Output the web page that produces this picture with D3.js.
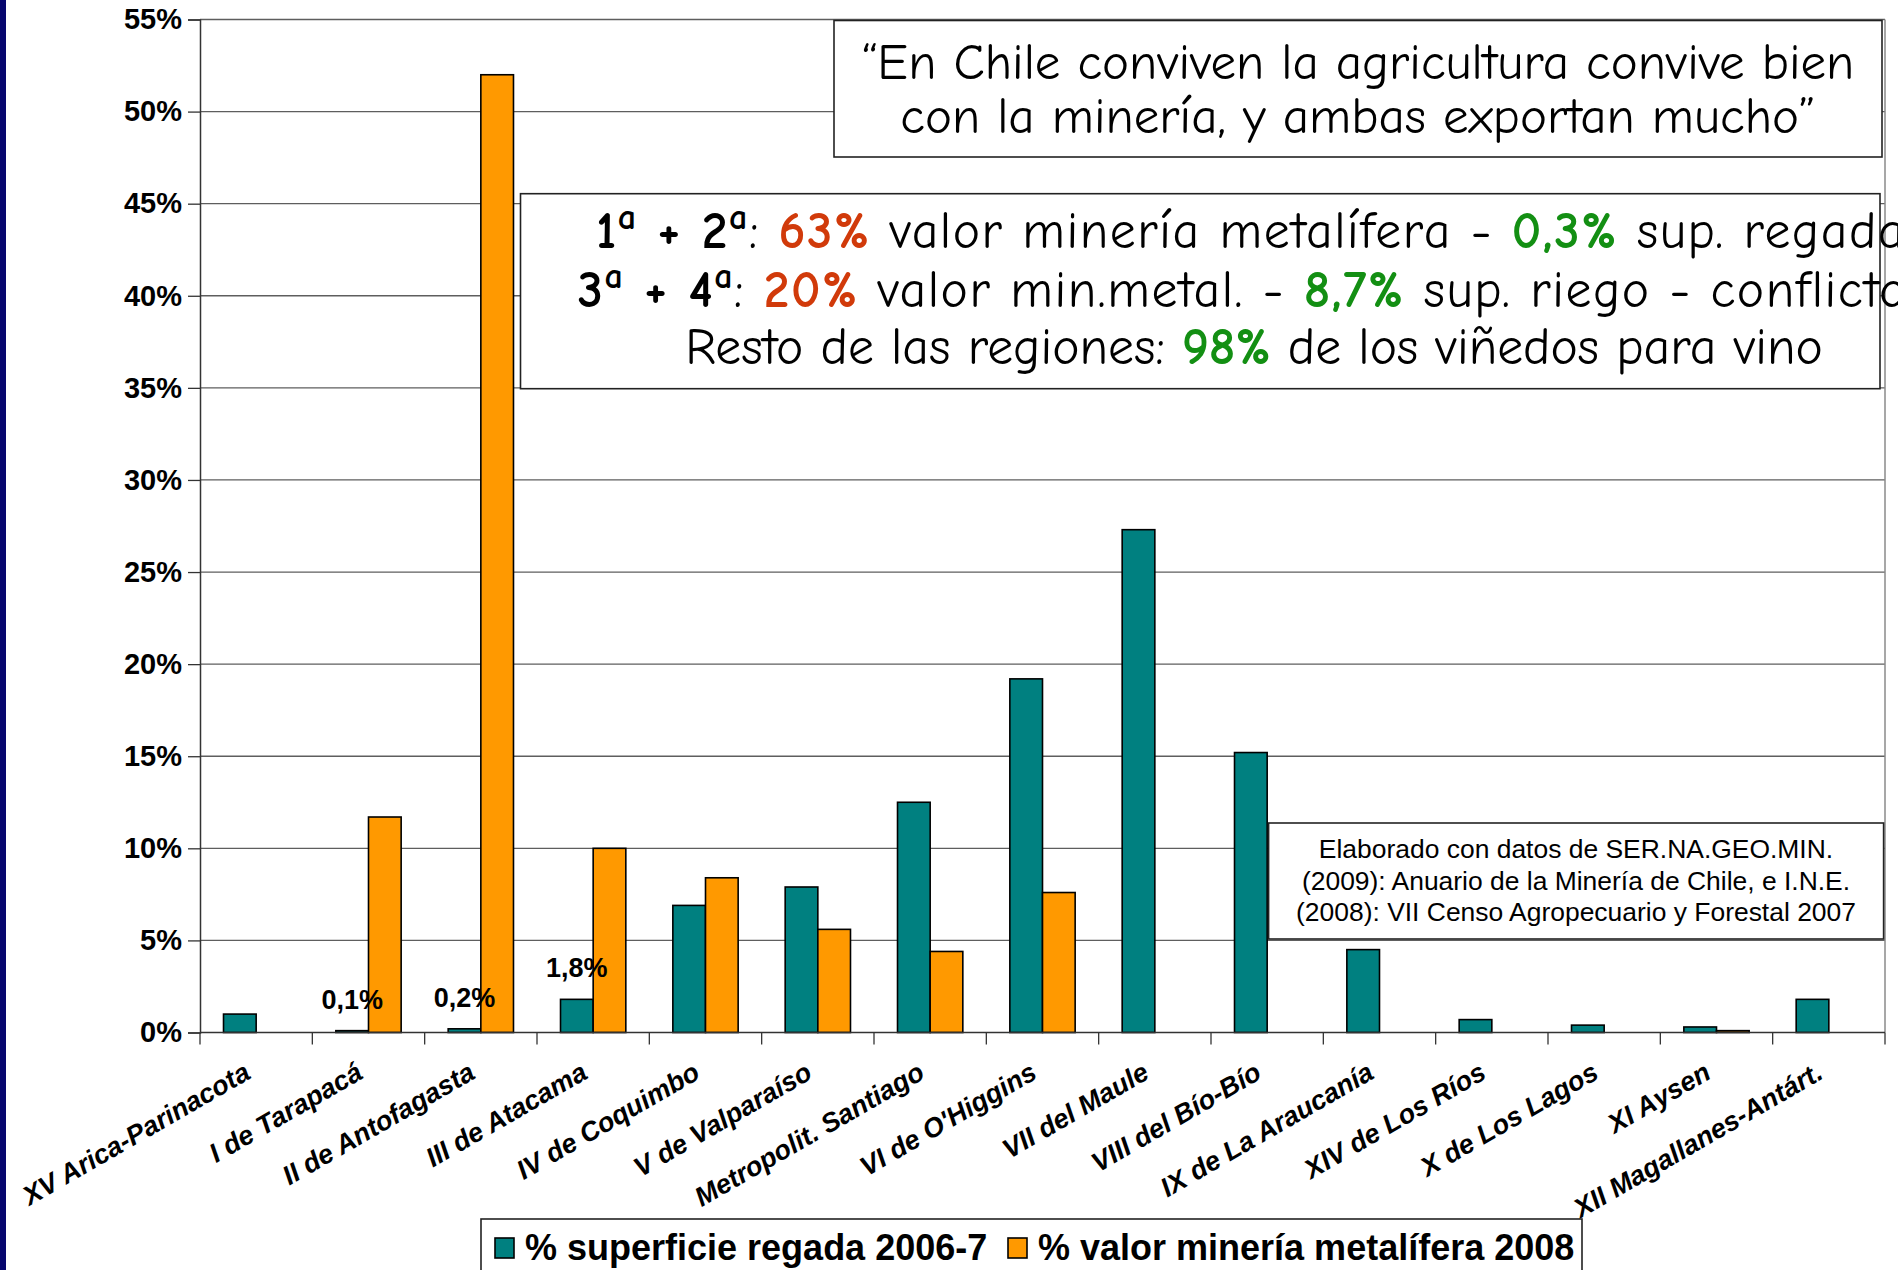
<!DOCTYPE html>
<html><head><meta charset="utf-8">
<script src="https://cdn.jsdelivr.net/npm/d3@7"></script>
<style>body{margin:0;background:#fff;overflow:hidden} svg{display:block}</style>
</head><body>
<svg id="c" width="1898" height="1270"></svg>
<script>
// ---------- data ----------
const categories = ["XV Arica-Parinacota","I de Tarapacá","II de Antofagasta","III de Atacama","IV de Coquimbo","V de Valparaíso","Metropolit. Santiago","VI de O'Higgins","VII del Maule","VIII del Bío-Bío","IX de La Araucanía","XIV de Los Ríos","X de Los Lagos","XI Aysen","XII Magallanes-Antárt."];
const regada  = [1.0, 0.1, 0.2, 1.8, 6.9, 7.9, 12.5, 19.2, 27.3, 15.2, 4.5, 0.7, 0.4, 0.3, 1.8];
const mineria = [0, 11.7, 52.0, 10.0, 8.4, 5.6, 4.4, 7.6, 0, 0, 0, 0, 0, 0.1, 0];
const seriesNames = ["% superficie regada 2006-7", "% valor minería metalífera 2008"];
const seriesColors = ["#008080", "#FF9900"];
const yTicks = [0, 5, 10, 15, 20, 25, 30, 35, 40, 45, 50, 55];
const labeledCategories = ["I de Tarapacá", "II de Antofagasta", "III de Atacama"];
const quoteLines = ["\u201cEn Chile conviven la agricultura convive bien", "con la minería, y ambas exportan mucho\u201d"];
const RED = "#D13A0A", GREEN = "#138F13";
const statLines = [
  [{t:"1",b:1},{t:"a",b:1,sup:1},{t:" + ",b:1},{t:"2",b:1},{t:"a",b:1,sup:1},{t:": "},{t:"63%",b:1,c:RED},{t:" valor minería metalífera - "},{t:"0,3%",b:1,c:GREEN},{t:" sup. regada"}],
  [{t:"3",b:1},{t:"a",b:1,sup:1},{t:" + ",b:1},{t:"4",b:1},{t:"a",b:1,sup:1},{t:": "},{t:"20%",b:1,c:RED},{t:" valor min.metal. - "},{t:"8,7%",b:1,c:GREEN},{t:" sup. riego - conflictos"}],
  [{t:"Resto de las regiones: "},{t:"98%",b:1,c:GREEN},{t:" de los viñedos para vino"}]
];
const sourceLines = ["Elaborado con datos de SER.NA.GEO.MIN.", "(2009): Anuario de la Minería de Chile, e I.N.E.", "(2008): VII Censo Agropecuario y Forestal 2007"];

// ---------- setup ----------
const W = 1898, H = 1270;
const svg = d3.select("#c");
svg.append("rect").attr("width", W).attr("height", H).attr("fill", "#fff");
svg.append("rect").attr("x", 0).attr("y", 0).attr("width", 6).attr("height", H).attr("fill", "#06066e");

const m = {left: 200, right: 1885, top: 19.5, bottom: 1032.5};
const x0 = d3.scaleBand().domain(categories).range([m.left, m.right]).padding(0);
const x1 = d3.scaleBand().domain([0, 1]).range([0, x0.bandwidth()]).paddingInner(0).paddingOuter(0.72);
const y = d3.scaleLinear().domain([0, 55]).range([m.bottom, m.top]);
const ARIAL = "'Liberation Sans', Arial, sans-serif";
const COMIC = "'Comic Sans MS', 'Comic Neue', 'Open Sans', sans-serif";

// gridlines
svg.append("g").selectAll("line").data(yTicks.filter(d => d > 0)).join("line")
  .attr("x1", m.left).attr("x2", m.right)
  .attr("y1", d => y(d)).attr("y2", d => y(d))
  .attr("stroke", "#5e5e5e").attr("stroke-width", 1.3);
// right border
svg.append("line").attr("x1", m.right).attr("x2", m.right).attr("y1", m.top).attr("y2", m.bottom)
  .attr("stroke", "#8a8a8a").attr("stroke-width", 1.5);

// y axis
const yAxis = svg.append("g").attr("transform", `translate(${m.left},0)`)
  .call(d3.axisLeft(y).tickValues(yTicks).tickFormat(d => d + "%").tickSize(12).tickPadding(6));
yAxis.select(".domain").attr("stroke", "#333").attr("stroke-width", 1.5);
yAxis.selectAll(".tick line").attr("stroke", "#333").attr("stroke-width", 1.3);
yAxis.selectAll("text").attr("font-family", ARIAL).attr("font-weight", "bold").attr("font-size", 29).attr("fill", "#000");

// bars
const series = [regada, mineria];
const barData = [];
categories.forEach((c, i) => series.forEach((s, j) => { if (s[i] > 0) barData.push({c, j, v: s[i]}); }));
svg.append("g").selectAll("rect").data(barData).join("rect")
  .attr("x", d => x0(d.c) + x1(d.j))
  .attr("width", x1.bandwidth())
  .attr("y", d => y(d.v))
  .attr("height", d => y(0) - y(d.v))
  .attr("fill", d => seriesColors[d.j])
  .attr("stroke", "#000").attr("stroke-width", 1.6);

// x axis
svg.append("line").attr("x1", m.left).attr("x2", m.right).attr("y1", y(0)).attr("y2", y(0))
  .attr("stroke", "#333").attr("stroke-width", 1.5);
const bounds = categories.map(c => x0(c)).concat([m.right]);
svg.append("g").selectAll("line").data(bounds).join("line")
  .attr("x1", d => d).attr("x2", d => d).attr("y1", y(0)).attr("y2", y(0) + 12)
  .attr("stroke", "#333").attr("stroke-width", 1.3);
svg.append("g").selectAll("text").data(categories).join("text")
  .attr("transform", c => `translate(${x0(c) + x0.bandwidth() / 2 - 4},${y(0) + 45}) rotate(-30)`)
  .attr("text-anchor", "end")
  .attr("font-family", ARIAL).attr("font-weight", "bold").attr("font-style", "italic").attr("font-size", 27)
  .text(c => c);

// data labels
svg.append("g").selectAll("text").data(labeledCategories).join("text")
  .attr("x", c => x0(c) + x1(0) + x1.bandwidth() / 2)
  .attr("y", c => y(regada[categories.indexOf(c)]) - 22)
  .attr("text-anchor", "middle")
  .attr("font-family", ARIAL).attr("font-weight", "bold").attr("font-size", 27)
  .text(c => d3.format(".1f")(regada[categories.indexOf(c)]).replace(".", ",") + "%");

// fit helpers
function fitFont(textSel, target) {
  const base = 40;
  textSel.attr("font-size", base);
  const w = textSel.node().getComputedTextLength();
  return base * target / w;
}
function stretchTo(textSel, target) {
  const node = textSel.node();
  const w = node.getComputedTextLength();
  const n = node.textContent.length;
  textSel.attr("letter-spacing", (target - w) / n);
}

// quote box
svg.append("rect").attr("x", 834).attr("y", 20.5).attr("width", 1048).attr("height", 136.5)
  .attr("fill", "#fff").attr("stroke", "#222").attr("stroke-width", 1.6);
const qg = svg.append("g").attr("font-family", COMIC).attr("text-anchor", "middle");
const qt = qg.selectAll("text").data(quoteLines).join("text")
  .attr("x", 1358).attr("y", (d, i) => [79, 133][i]).text(d => d);
const qfs = fitFont(qt.filter((d, i) => i === 0), 993);
qt.attr("font-size", qfs);

// stats box
svg.append("rect").attr("x", 520.5).attr("y", 193.7).attr("width", 1359.5).attr("height", 195)
  .attr("fill", "#fff").attr("stroke", "#222").attr("stroke-width", 1.6);
const sg = svg.append("g").attr("font-family", COMIC).attr("text-anchor", "middle");
const st = sg.selectAll("text").data(statLines).join("text")
  .attr("x", (d, i) => [1251, 1254, 1254][i]).attr("y", (d, i) => [248, 307, 364][i]);
st.each(function(parts) {
  const t = d3.select(this);
  let pendingDown = false;
  parts.forEach(p => {
    const ts = t.append("tspan").text(p.t);
    if (p.b) ts.attr("font-weight", "bold");
    if (p.c) ts.attr("fill", p.c);
    if (p.sup) { ts.attr("font-size", "70%").attr("dy", "-0.52em"); pendingDown = true; }
    else if (pendingDown) { ts.attr("dy", "0.364em"); pendingDown = false; }
  });
});
const sfs = fitFont(st.filter((d, i) => i === 2), 1138);
st.attr("font-size", sfs);
stretchTo(st.filter((d, i) => i === 0), 1310);
stretchTo(st.filter((d, i) => i === 1), 1353);

// source box
svg.append("rect").attr("x", 1268.6).attr("y", 823).attr("width", 615).attr("height", 116)
  .attr("fill", "#fff").attr("stroke", "#222").attr("stroke-width", 1.6);
const srct = svg.append("g").attr("font-family", ARIAL).attr("text-anchor", "middle")
  .selectAll("text").data(sourceLines).join("text")
  .attr("x", 1576).attr("y", (d, i) => [858, 890, 921][i]).text(d => d);
const srcfs = fitFont(srct.filter((d, i) => i === 2), 560);
srct.attr("font-size", srcfs);

// legend
svg.append("rect").attr("x", 481).attr("y", 1219).attr("width", 1101).attr("height", 60)
  .attr("fill", "#fff").attr("stroke", "#222").attr("stroke-width", 1.6);
const legX = [495, 1008];
const lg = svg.append("g").selectAll("g").data(seriesNames).join("g")
  .attr("transform", (d, i) => `translate(${legX[i]},0)`);
lg.append("rect").attr("x", 0).attr("y", 1238).attr("width", 19).attr("height", 20)
  .attr("fill", (d, i) => seriesColors[i]).attr("stroke", "#000").attr("stroke-width", 1.6);
lg.append("text").attr("x", 30).attr("y", 1260)
  .attr("font-family", ARIAL).attr("font-weight", "bold").attr("font-size", 36)
  .text(d => d);
</script>
</body></html>
